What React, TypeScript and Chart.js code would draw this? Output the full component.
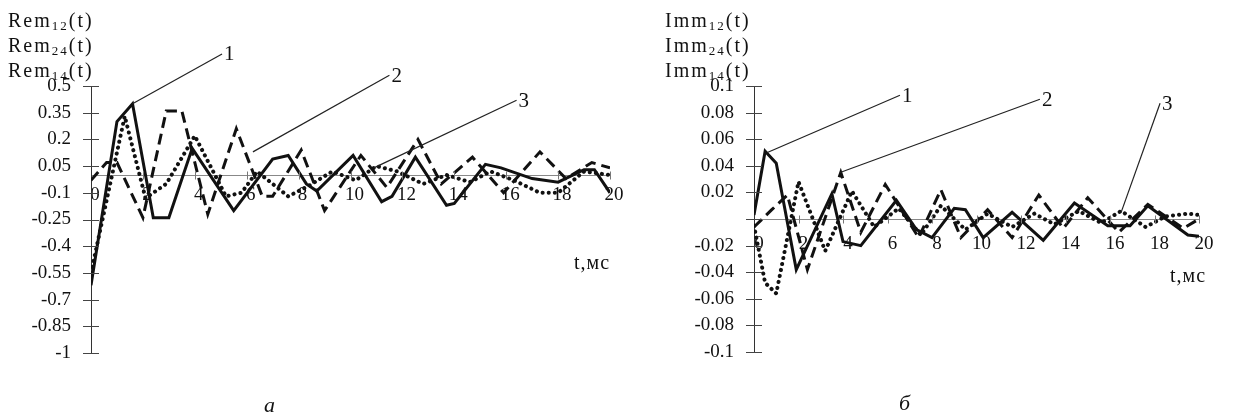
import React, { useEffect, useRef } from "react";
import { Chart, registerables } from "chart.js";

Chart.register(...registerables);

// ---------- shared ----------
const xTicks = [0, 2, 4, 6, 8, 10, 12, 14, 16, 18, 20];
const FONT = "'Liberation Serif', 'Times New Roman', serif";

// ---------- chart a : Rem ----------
const remYTicks = [0.5, 0.35, 0.2, 0.05, -0.1, -0.25, -0.4, -0.55, -0.7, -0.85, -1];
const remYLabels = ["0.5", "0.35", "0.2", "0.05", "-0.1", "-0.25", "-0.4", "-0.55", "-0.7", "-0.85", "-1"];

const rem1T = [0, 1.0, 1.6, 2.4, 3.0, 3.9, 5.5, 7.0, 7.6, 8.3, 8.7, 10.1, 11.2, 11.6, 12.5, 13.7, 14.0, 15.2, 15.8, 17.0, 18.0, 19.0, 19.4, 20];
const rem1V = [-0.62, 0.3, 0.4, -0.24, -0.24, 0.15, -0.2, 0.09, 0.11, -0.05, -0.09, 0.11, -0.15, -0.12, 0.1, -0.17, -0.16, 0.06, 0.04, -0.02, -0.04, 0.03, 0.03, -0.1];

const rem2T = [0, 0.6, 1.0, 2.0, 2.9, 3.5, 4.5, 5.6, 6.6, 7.0, 8.1, 9.0, 10.4, 11.4, 12.6, 13.5, 14.7, 15.9, 17.3, 18.3, 19.3, 20];
const rem2V = [-0.03, 0.07, 0.07, -0.24, 0.36, 0.36, -0.22, 0.26, -0.12, -0.12, 0.14, -0.2, 0.11, -0.07, 0.2, -0.05, 0.1, -0.1, 0.13, -0.02, 0.07, 0.04];

const rem3T = [0, 1.3, 2.1, 2.9, 4.0, 5.2, 5.8, 6.4, 7.6, 8.4, 9.3, 10.2, 11.0, 11.8, 12.8, 13.7, 14.6, 15.4, 16.3, 17.3, 18.0, 19.0, 20];
const rem3V = [-0.55, 0.33, -0.13, -0.05, 0.22, -0.12, -0.1, 0.02, -0.12, -0.06, 0.02, -0.03, 0.05, 0.02, -0.05, 0.0, -0.04, 0.02, -0.03, -0.1, -0.1, 0.02, 0.0];

const remLeaderText = ["1", "2", "3"];
const remLeaderFromT = [1.6, 6.24, 10.9];
const remLeaderFromV = [0.4, 0.13, 0.04];
const remLeaderToT = [5.05, 11.5, 16.4];
const remLeaderToV = [0.68, 0.56, 0.42];

// ---------- chart б : Imm ----------
const immYTicks = [0.1, 0.08, 0.06, 0.04, 0.02, 0, -0.02, -0.04, -0.06, -0.08, -0.1];
const immYLabels = ["0.1", "0.08", "0.06", "0.04", "0.02", "", "-0.02", "-0.04", "-0.06", "-0.08", "-0.1"];

const imm1T = [0, 0.5, 1.0, 1.9, 3.5, 4.0, 4.8, 6.4, 7.3, 8.0, 9.0, 9.5, 10.3, 11.6, 13.0, 14.4, 15.9, 16.9, 17.7, 19.5, 20];
const imm1V = [0.003, 0.051, 0.042, -0.038, 0.019, -0.017, -0.02, 0.014, -0.008, -0.014, 0.008, 0.007, -0.014, 0.005, -0.016, 0.012, -0.005, -0.005, 0.01, -0.012, -0.013];

const imm2T = [0, 0.8, 1.5, 2.4, 3.9, 4.8, 5.9, 7.4, 8.4, 9.3, 10.5, 11.6, 12.8, 13.9, 15.0, 16.4, 17.7, 19.3, 20];
const imm2V = [-0.006, 0.007, 0.018, -0.038, 0.035, -0.01, 0.026, -0.014, 0.022, -0.014, 0.007, -0.014, 0.018, -0.007, 0.016, -0.01, 0.011, -0.007, 0.0];

const imm3T = [0, 0.5, 1.0, 2.0, 3.2, 4.4, 5.4, 6.5, 7.5, 8.4, 9.5, 10.5, 11.6, 12.6, 13.5, 14.6, 15.6, 16.5, 17.6, 18.5, 19.5, 20];
const imm3V = [-0.005, -0.048, -0.056, 0.028, -0.024, 0.021, -0.006, 0.008, -0.012, 0.01, -0.008, 0.004, -0.006, 0.004, -0.004, 0.006, -0.003, 0.006, -0.006, 0.002, 0.004, 0.003];

const immLeaderText = ["1", "2", "3"];
const immLeaderFromT = [0.6, 3.87, 16.5];
const immLeaderFromV = [0.05, 0.035, 0.005];
const immLeaderToT = [6.56, 12.85, 18.25];
const immLeaderToV = [0.093, 0.09, 0.087];

// ---------- helpers ----------
const pts = (t: number[], v: number[]) => t.map((tt, i) => ({ x: tt, y: v[i] }));

type PanelCfg = {
  yTicks: number[];
  yLabels: string[];
  yMin: number;
  yMax: number;
  s1: { x: number; y: number }[];
  s2: { x: number; y: number }[];
  s3: { x: number; y: number }[];
  axisWidth: number;
  labelPad: number;
  labelOffset: number;
  padding: { left: number; right: number; top: number; bottom: number };
  leaderText: string[];
  leaderFromT: number[];
  leaderFromV: number[];
  leaderToT: number[];
  leaderToV: number[];
};

function buildConfig(p: PanelCfg): any {
  const overlay = {
    id: "overlay",
    afterDraw(chart: any) {
      const { ctx, chartArea } = chart;
      const xs = chart.scales.x;
      const ys = chart.scales.y;
      ctx.save();
      // y tick crosses
      ctx.strokeStyle = "#444";
      ctx.lineWidth = 1;
      p.yTicks.forEach((v) => {
        const py = Math.round(ys.getPixelForValue(v)) + 0.5;
        ctx.beginPath();
        ctx.moveTo(chartArea.left - 8, py);
        ctx.lineTo(chartArea.left + 8, py);
        ctx.stroke();
      });
      // x tick marks on zero line
      const y0 = Math.round(ys.getPixelForValue(0)) + 0.5;
      ctx.strokeStyle = "#777";
      xTicks.forEach((t) => {
        if (t === 0) return;
        const px = Math.round(xs.getPixelForValue(t)) + 0.5;
        ctx.beginPath();
        ctx.moveTo(px, y0 - 4);
        ctx.lineTo(px, y0 + 4);
        ctx.stroke();
      });
      // leader lines with numbers
      ctx.strokeStyle = "#222";
      ctx.fillStyle = "#111";
      ctx.lineWidth = 1.2;
      ctx.font = `21px ${FONT}`;
      ctx.textAlign = "left";
      ctx.textBaseline = "middle";
      p.leaderText.forEach((txt, i) => {
        const fx = xs.getPixelForValue(p.leaderFromT[i]);
        const fy = ys.getPixelForValue(p.leaderFromV[i]);
        const tx = xs.getPixelForValue(p.leaderToT[i]);
        const ty = ys.getPixelForValue(p.leaderToV[i]);
        ctx.beginPath();
        ctx.moveTo(fx, fy);
        ctx.lineTo(tx, ty);
        ctx.stroke();
        ctx.fillText(txt, tx + 2, ty + 1);
      });
      ctx.restore();
    },
  };

  return {
    type: "line",
    data: {
      datasets: [
        {
          label: "1",
          data: p.s1,
          borderColor: "#111",
          borderWidth: 3,
          pointRadius: 0,
          tension: 0,
          fill: false,
        },
        {
          label: "2",
          data: p.s2,
          borderColor: "#111",
          borderWidth: 3,
          borderDash: [11, 6],
          pointRadius: 0,
          tension: 0,
          fill: false,
        },
        {
          label: "3",
          data: p.s3,
          borderColor: "#111",
          borderWidth: 4,
          borderDash: [0.1, 6],
          borderCapStyle: "round",
          pointRadius: 0,
          tension: 0,
          fill: false,
        },
      ],
    },
    options: {
      animation: false,
      responsive: false,
      maintainAspectRatio: false,
      events: [],
      layout: { padding: p.padding },
      plugins: { legend: { display: false }, tooltip: { enabled: false }, title: { display: false } },
      scales: {
        x: {
          type: "linear",
          min: 0,
          max: 20,
          position: { y: 0 },
          afterBuildTicks: (s: any) => {
            s.ticks = xTicks.map((v) => ({ value: v }));
          },
          afterFit: (s: any) => {
            s.paddingLeft = 0;
            s.paddingRight = 0;
          },
          grid: { display: false, drawTicks: false },
          border: { display: true, color: "#888", width: 1, dash: [7, 2, 2, 2] },
          ticks: {
            autoSkip: false,
            maxRotation: 0,
            padding: p.labelPad,
            labelOffset: p.labelOffset,
            color: "#111",
            font: { family: FONT, size: 19 },
            callback: (v: any) => String(v),
          },
        },
        y: {
          type: "linear",
          min: p.yMin,
          max: p.yMax,
          position: "left",
          afterBuildTicks: (s: any) => {
            s.ticks = p.yTicks.map((v) => ({ value: v }));
          },
          afterFit: (s: any) => {
            s.width = p.axisWidth;
            s.paddingTop = 0;
            s.paddingBottom = 0;
          },
          grid: { display: false, drawTicks: false },
          border: { display: true, color: "#333", width: 1 },
          ticks: {
            autoSkip: false,
            padding: 20,
            color: "#111",
            font: { family: FONT, size: 19 },
            callback: (v: any) => {
              const i = p.yTicks.findIndex((t) => Math.abs(t - v) < 1e-9);
              return i >= 0 ? p.yLabels[i] : "";
            },
          },
        },
      },
    },
    plugins: [overlay],
  };
}

function Panel({ cfg, left, width }: { cfg: PanelCfg; left: number; width: number }) {
  const ref = useRef<HTMLCanvasElement | null>(null);
  useEffect(() => {
    if (!ref.current) return;
    const chart = new Chart(ref.current, buildConfig(cfg));
    return () => chart.destroy();
  }, [cfg]);
  return (
    <canvas
      ref={ref}
      width={width}
      height={416}
      style={{ position: "absolute", left, top: 0, width, height: 416 }}
    />
  );
}

const remCfg: PanelCfg = {
  yTicks: remYTicks,
  yLabels: remYLabels,
  yMin: -1,
  yMax: 0.5,
  s1: pts(rem1T, rem1V),
  s2: pts(rem2T, rem2V),
  s3: pts(rem3T, rem3V),
  axisWidth: 91,
  labelPad: 9,
  labelOffset: 4,
  padding: { left: 0, right: 30, top: 86, bottom: 63 },
  leaderText: remLeaderText,
  leaderFromT: remLeaderFromT,
  leaderFromV: remLeaderFromV,
  leaderToT: remLeaderToT,
  leaderToV: remLeaderToV,
};

const immCfg: PanelCfg = {
  yTicks: immYTicks,
  yLabels: immYLabels,
  yMin: -0.1,
  yMax: 0.1,
  s1: pts(imm1T, imm1V),
  s2: pts(imm2T, imm2V),
  s3: pts(imm3T, imm3V),
  axisWidth: 137,
  labelPad: 14,
  labelOffset: 5,
  padding: { left: 0, right: 35, top: 86, bottom: 64 },
  leaderText: immLeaderText,
  leaderFromT: immLeaderFromT,
  leaderFromV: immLeaderFromV,
  leaderToT: immLeaderToT,
  leaderToV: immLeaderToV,
};

const textStyle: React.CSSProperties = {
  position: "absolute",
  fontFamily: FONT,
  fontSize: 20,
  lineHeight: "25px",
  color: "#111",
  whiteSpace: "nowrap",
  letterSpacing: 2,
};

const subStyle: React.CSSProperties = { fontSize: 13, verticalAlign: -3, lineHeight: 0 };

function Title({ name, left }: { name: string; left: number }) {
  const idx = ["12", "24", "14"];
  return (
    <>
      {idx.map((s, i) => (
        <div key={s} style={{ ...textStyle, left, top: 8 + i * 25 }}>
          {name}
          <span style={subStyle}>{s}</span>(t)
        </div>
      ))}
    </>
  );
}

export default function App() {
  return (
    <div
      style={{
        position: "absolute",
        left: 0,
        top: 0,
        width: 1234,
        height: 416,
        background: "#fff",
        overflow: "hidden",
      }}
    >
      <Panel cfg={remCfg} left={0} width={640} />
      <Panel cfg={immCfg} left={617} width={617} />
      <Title name="Rem" left={8} />
      <Title name="Imm" left={665} />
      <div style={{ ...textStyle, left: 574, top: 250, letterSpacing: 1 }}>t,мс</div>
      <div style={{ ...textStyle, left: 1170, top: 263, letterSpacing: 1 }}>t,мс</div>
      <div style={{ ...textStyle, left: 264, top: 392, fontStyle: "italic", fontSize: 22 }}>а</div>
      <div style={{ ...textStyle, left: 899, top: 390, fontStyle: "italic", fontSize: 22 }}>б</div>
    </div>
  );
}
